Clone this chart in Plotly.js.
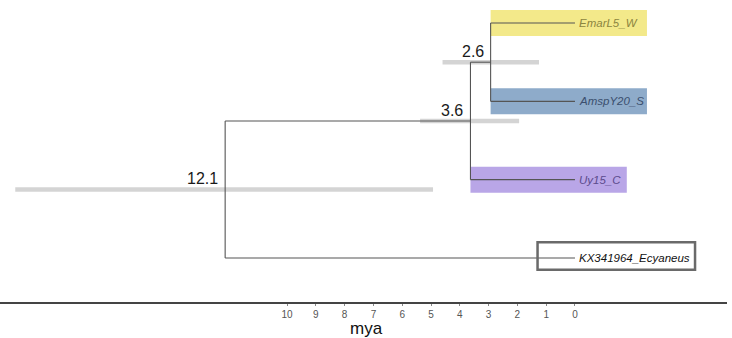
<!DOCTYPE html>
<html><head><meta charset="utf-8">
<script src="https://cdn.plot.ly/plotly-3.0.1.min.js"></script>
<style>html,body{margin:0;padding:0;background:#fff}#c{width:732px;height:338px}</style>
</head><body><div id="c"></div>
<script>
// Tips (top to bottom) and their y slots
const tipNames = ["EmarL5_W", "AmspY20_S", "Uy15_C", "KX341964_Ecyaneus"];
const tipY = [4, 3, 2, 1];
const tipAge = [0, 0, 0, 0];
const tipColors = ["#8c8540", "#3b4f6e", "#5b4a8c", "#111111"];
// Internal nodes: ages (mya), label, HPD interval
const nodeNames = ["root", "n36", "n26"];
const nodeAge = [12.15, 3.63, 2.93];
const nodeLabel = ["12.1", "3.6", "2.6"];
const hpdLow = [4.93, 1.94, 1.25];
const hpdHigh = [19.44, 5.38, 4.6];
// Highlights: [tip index, left age, right age]
const hlTip = [0, 1, 2];
const hlLeft = [2.93, 2.93, 3.63];
const hlRight = [-2.5, -2.5, -1.8];
const hlFill = ["#f3e98a", "#8eabca", "#b9a6e7"];
const boxTip = 3, boxLeft = 1.3, boxRight = -4.17;
const tickVals = [10, 9, 8, 7, 6, 5, 4, 3, 2, 1, 0];
const axisTitle = "mya";

// topology
const yN26 = (tipY[0] + tipY[1]) / 2;
const yN36 = (yN26 + tipY[2]) / 2;
const yRoot = (yN36 + tipY[3]) / 2;
const nodeY = [yRoot, yN36, yN26];

const lc = "#555555", lw = 1.1;
const traces = [];
function seg(xs, ys) {
  traces.push({x: xs, y: ys, mode: "lines", line: {color: lc, width: lw}, hoverinfo: "skip", showlegend: false});
}
// HPD bars first (behind)
for (let i = 0; i < nodeAge.length; i++) {
  traces.push({x: [hpdHigh[i], hpdLow[i]], y: [nodeY[i], nodeY[i]], mode: "lines",
    line: {color: "#d4d4d4", width: 4.5}, hoverinfo: "skip", showlegend: false});
}
// n26
seg([nodeAge[2], nodeAge[2]], [tipY[0], tipY[1]]);
seg([nodeAge[2], tipAge[0]], [tipY[0], tipY[0]]);
seg([nodeAge[2], tipAge[1]], [tipY[1], tipY[1]]);
// n36
seg([nodeAge[1], nodeAge[1]], [yN26, tipY[2]]);
seg([nodeAge[1], nodeAge[2]], [yN26, yN26]);
seg([nodeAge[1], tipAge[2]], [tipY[2], tipY[2]]);
// root
seg([nodeAge[0], nodeAge[0]], [yN36, tipY[3]]);
seg([nodeAge[0], nodeAge[1]], [yN36, yN36]);
seg([nodeAge[0], tipAge[3]], [tipY[3], tipY[3]]);

const shapes = [];
for (let i = 0; i < hlTip.length; i++) {
  const y = tipY[hlTip[i]];
  shapes.push({type: "rect", xref: "x", yref: "y", layer: "below", x0: hlLeft[i], x1: hlRight[i],
    y0: y - 0.166, y1: y + 0.166, fillcolor: hlFill[i], line: {width: 0}});
}
shapes.push({type: "rect", xref: "x", yref: "y", x0: boxLeft, x1: boxRight,
  y0: tipY[boxTip] - 0.15, y1: tipY[boxTip] + 0.2, fillcolor: "rgba(0,0,0,0)", line: {color: "#6a6a6a", width: 2.5}});

const annotations = [];
for (let i = 0; i < tipNames.length; i++) {
  annotations.push({x: tipAge[i], y: tipY[i], xref: "x", yref: "y", text: tipNames[i], showarrow: false,
    xanchor: "left", yanchor: "middle", xshift: 2, font: {family: "Liberation Sans, Arial, sans-serif", size: 11.5, color: tipColors[i], style: "italic"}});
}
for (let i = 0; i < nodeAge.length; i++) {
  annotations.push({x: nodeAge[i], y: nodeY[i], xref: "x", yref: "y", text: nodeLabel[i], showarrow: false,
    xanchor: "right", yanchor: "bottom", xshift: -5, yshift: 0, font: {family: "Liberation Sans, Arial, sans-serif", size: 16, color: "#1a1a1a"}});
}
annotations.push({x: 0.5, y: 0, xref: "paper", yref: "paper", text: axisTitle, showarrow: false,
  xanchor: "center", yanchor: "top", xshift: 3, yshift: -16, borderpad: 0,
  font: {family: "Liberation Sans, Arial, sans-serif", size: 17, color: "#111"}});

const layout = {
  width: 732, height: 338,
  margin: {l: 0, r: 5, t: 0, b: 36},
  paper_bgcolor: "#fff", plot_bgcolor: "#fff",
  showlegend: false,
  xaxis: {range: [19.97, -5.28], tickvals: tickVals, ticktext: tickVals.map(String),
    showgrid: false, zeroline: false, showline: true, linecolor: "#444", linewidth: 1.5,
    ticks: "outside", ticklen: 2, tickcolor: "#888", tickwidth: 1,
    tickfont: {family: "Liberation Sans, Arial, sans-serif", size: 10, color: "#555555"}},
  yaxis: {range: [0.438, 4.294], visible: false, showgrid: false, zeroline: false},
  shapes: shapes, annotations: annotations
};
Plotly.newPlot("c", traces, layout, {displayModeBar: false, staticPlot: true});
</script></body></html>
